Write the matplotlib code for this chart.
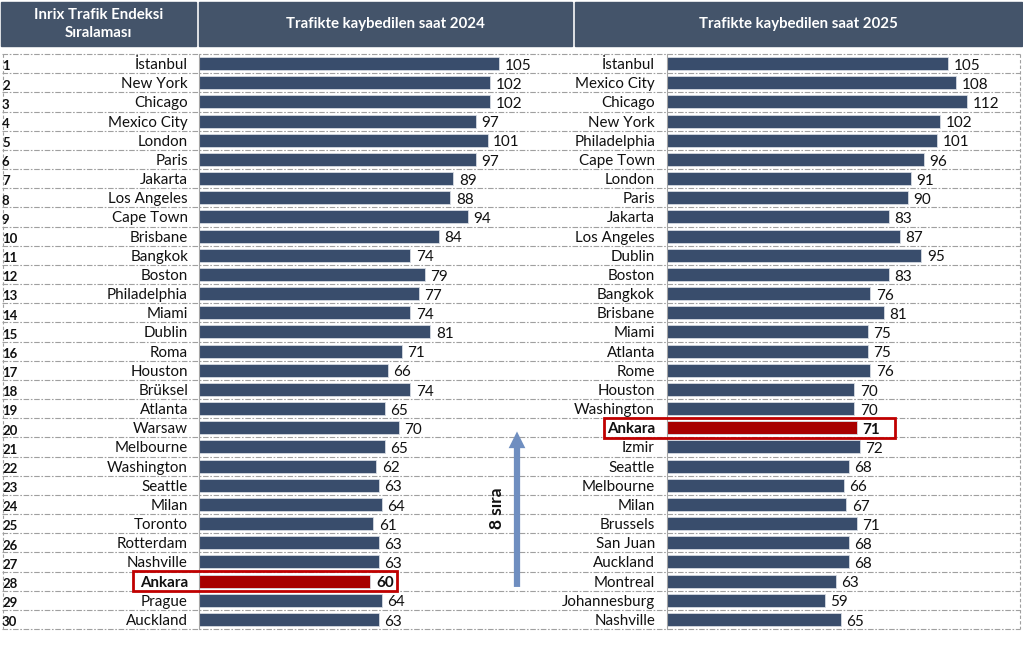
import matplotlib
matplotlib.use("Agg")
import matplotlib.pyplot as plt
import matplotlib.transforms as mtransforms
from matplotlib.patches import Rectangle

plt.rcParams['font.family'] = ['Lato', 'DejaVu Sans']

ranks = list(range(1, 31))
cities_2024 = ["İstanbul", "New York", "Chicago", "Mexico City", "London", "Paris",
               "Jakarta", "Los Angeles", "Cape Town", "Brisbane", "Bangkok", "Boston",
               "Philadelphia", "Miami", "Dublin", "Roma", "Houston", "Brüksel",
               "Atlanta", "Warsaw", "Melbourne", "Washington", "Seattle", "Milan",
               "Toronto", "Rotterdam", "Nashville", "Ankara", "Prague", "Auckland"]
hours_2024 = [105, 102, 102, 97, 101, 97, 89, 88, 94, 84, 74, 79, 77, 74, 81,
              71, 66, 74, 65, 70, 65, 62, 63, 64, 61, 63, 63, 60, 64, 63]
cities_2025 = ["İstanbul", "Mexico City", "Chicago", "New York", "Philadelphia",
               "Cape Town", "London", "Paris", "Jakarta", "Los Angeles", "Dublin",
               "Boston", "Bangkok", "Brisbane", "Miami", "Atlanta", "Rome", "Houston",
               "Washington", "Ankara", "İzmir", "Seattle", "Melbourne", "Milan",
               "Brussels", "San Juan", "Auckland", "Montreal", "Johannesburg", "Nashville"]
hours_2025 = [105, 108, 112, 102, 101, 96, 91, 90, 83, 87, 95, 83, 76, 81, 75,
              75, 76, 70, 70, 71, 72, 68, 66, 67, 71, 68, 68, 63, 59, 65]
headers = ["Inrix Trafik Endeksi\nSıralaması", "Trafikte kaybedilen saat 2024",
           "Trafikte kaybedilen saat 2025"]
highlight = "Ankara"

W, H = 1023, 658
fig = plt.figure(figsize=(W / 100, H / 100), dpi=100)
bg = fig.add_axes([0, 0, 1, 1])
bg.set_xlim(0, W)
bg.set_ylim(H, 0)
bg.axis('off')

top, bottom = 54, 629
bar_col = '#394D6C'
red = '#A80000'
head_col = '#44546A'
grid_col = '#A0A0A0'

# header boxes
for (x0, w), txt in zip([(1, 195), (199, 373), (575, 447)], headers):
    bg.add_patch(Rectangle((x0, 2), w, 44, color=head_col, zorder=1))
    bg.text(x0 + w / 2, 24, txt, color='white', fontsize=10.8, fontweight='bold',
            ha='center', va='center', linespacing=1.35)

# dashed grid
step = (bottom - top) / 30
for k in range(31):
    y = top + k * step
    bg.plot([2, 1020], [y, y], color=grid_col, lw=0.8, ls=(0, (5, 1.5, 1.5, 1.5)))
bg.plot([3, 3], [top, bottom], color=grid_col, lw=0.8, ls=(0, (3, 2)))
bg.plot([1020, 1020], [top, bottom], color=grid_col, lw=0.8, ls=(0, (3, 2)))


def panel(x0, x1, cities, hours, label_x, box_x):
    ax = fig.add_axes([x0 / W, 1 - bottom / H, (x1 - x0) / W, (bottom - top) / H])
    ax.patch.set_alpha(0)
    scale = 300 / 105 if x0 < 400 else 281 / 105
    ax.set_xlim(0, (x1 - x0) / scale)
    ax.set_ylim(30.5, 0.5)
    colors = [red if c == highlight else bar_col for c in cities]
    ax.barh(ranks, hours, height=0.68, color=colors, edgecolor='#D5DAE2', linewidth=0.6)
    for r, c, v in zip(ranks, cities, hours):
        wt = 'bold' if c == highlight else 'normal'
        ax.annotate(str(v), (v, r), xytext=(4, -1.6), textcoords='offset points',
                    va='center', ha='left', fontsize=11, fontweight=wt, color='#111111')
    for s in ['top', 'right', 'bottom']:
        ax.spines[s].set_visible(False)
    ax.spines['left'].set_color('#A6A6A6')
    ax.set_xticks([])
    ax.set_yticks([])
    tr = mtransforms.blended_transform_factory(bg.transData, ax.transData)
    for r, c in zip(ranks, cities):
        wt = 'bold' if c == highlight else 'normal'
        ax.text(label_x, r + 0.08, c, transform=tr, ha='right', va='center', fontsize=10.9,
                fontweight=wt, color='#111111', clip_on=False)
        if c == highlight:
            ax.add_patch(Rectangle((box_x[0], r - 0.52), box_x[1] - box_x[0], 1.04,
                                   transform=tr, fill=False, edgecolor='#C00000',
                                   lw=2, clip_on=False, zorder=5))
    return ax, tr


axL, trL = panel(199, 572, cities_2024, hours_2024, 188, (133, 397))
axR, trR = panel(667, 1020, cities_2025, hours_2025, 655, (604, 895))

for r in ranks:
    axL.text(2, r + 0.15, str(r), transform=trL, ha='left', va='center', fontsize=9.5,
             fontweight='bold', color='#111111', clip_on=False)

# rank change arrow
axL.annotate('', xy=(517, 20.05), xycoords=trL, xytext=(517, 28.45), textcoords=trL,
             arrowprops=dict(arrowstyle='simple,head_width=1.2,head_length=1.2,tail_width=0.45',
                             color='#6F8EC0', lw=0), annotation_clip=False)
axL.text(497, 24.2, '8 sıra', transform=trL, rotation=90, ha='center', va='center',
         fontsize=12.5, fontweight='bold', color='#111111', clip_on=False)

fig.savefig('out.png', dpi=100)
